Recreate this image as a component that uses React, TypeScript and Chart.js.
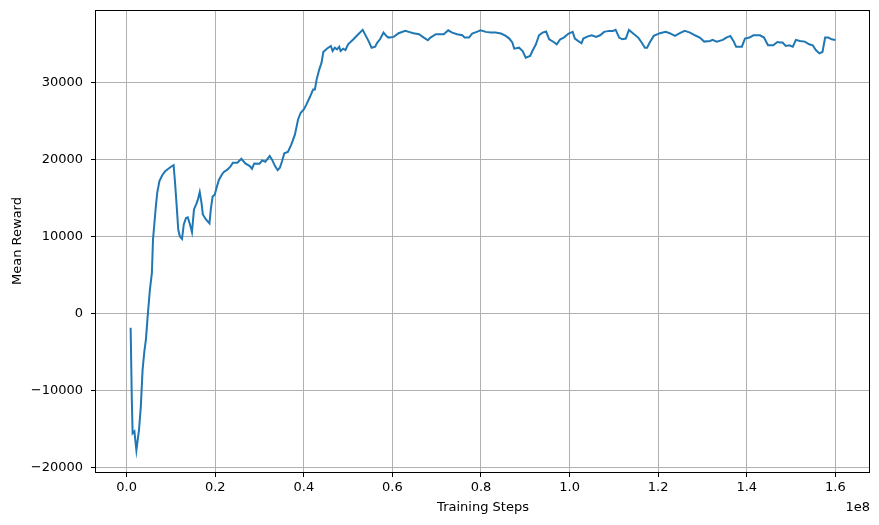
import { useEffect, useRef } from 'react';
import { Chart, registerables } from 'chart.js';

Chart.register(...registerables);

// Training steps in millions
const stepsM = [
  0.9, 1.15, 1.35, 1.75, 2.2, 2.8, 3.2, 3.6, 4.0, 4.35, 4.75, 5.25, 5.7, 5.95, 6.6, 6.9, 7.4, 8.0, 8.7, 9.2,
  10.0, 10.6, 10.9, 11.3, 11.65, 12.0, 12.5, 12.9, 13.4, 13.8, 14.3, 14.75, 15.2, 15.7, 16.1, 16.5, 16.9, 17.2, 17.9, 18.7,
  19.0, 19.4, 19.9, 20.3, 20.8, 21.5, 21.9, 22.8, 23.5, 24.0, 25.0, 25.9, 26.8, 27.8, 28.3, 28.8, 30.0, 30.6, 31.3, 32.3,
  32.8, 33.5, 34.1, 34.6, 35.1, 35.6, 36.4, 37.2, 38.0, 38.7, 39.3, 40.0, 40.6, 41.4, 42.1, 42.5, 42.9, 43.5, 44.0, 44.4,
  45.2, 46.1, 46.5, 47.0, 47.5, 48.0, 48.3, 48.9, 49.4, 50.0, 51.2, 52.3, 53.3, 54.0, 54.6, 55.3, 56.1, 56.6, 57.2, 58.0,
  58.6, 59.1, 60.3, 61.4, 62.9, 63.7, 64.8, 66.0, 67.1, 68.0, 68.6, 69.8, 71.6, 72.6, 73.5, 74.6, 75.8, 76.3, 77.3, 78.0,
  79.2, 79.9, 81.1, 82.2, 83.3, 84.5, 85.6, 86.4, 87.1, 87.5, 88.6, 89.4, 90.1, 91.1, 91.6, 92.4, 93.1, 93.9, 94.7, 95.4,
  96.4, 97.1, 97.9, 98.7, 99.7, 100.7, 101.2, 101.9, 102.7, 103.1, 104.0, 105.0, 106.0, 106.9, 107.8, 108.9, 109.8, 110.4, 111.2, 111.9,
  112.7, 113.4, 114.3, 115.5, 116.2, 117.0, 117.5, 118.1, 119.0, 120.4, 121.7, 122.6, 123.8, 124.9, 126.0, 127.2, 128.3, 129.4, 130.4, 131.7,
  132.3, 133.2, 134.6, 135.4, 136.3, 137.0, 137.6, 138.9, 139.6, 140.6, 141.5, 143.0, 143.9, 144.8, 146.0, 146.9, 147.5, 148.1, 148.8, 149.6,
  150.4, 151.1, 152.0, 153.1, 154.1, 154.9, 155.6, 156.4, 157.1, 157.7, 158.4, 159.2, 160.0,
];

const meanReward = [
  -1800, -10700, -15500, -15250, -17700, -15000, -12000, -7230, -4850, -3340, -300, 3160, 5320, 9650, 13980, 15710, 17220, 17950, 18520, 18740,
  19090, 19300, 17220, 13980, 10950, 10080, 9740, 11600, 12450, 12540, 11600, 10600, 13550, 14200, 14850, 15800, 14400, 12900, 12250, 11730,
  13550, 15190, 15500, 16360, 17350, 18090, 18390, 18740, 19170, 19600, 19600, 20130, 19520, 19170, 18830, 19520, 19480, 19910, 19740, 20480,
  20040, 19170, 18650, 18960, 19830, 20830, 21000, 21990, 23290, 25230, 26100, 26530, 27180, 28170, 29130, 29130, 30430, 31730, 32600, 33980,
  34410, 34760, 34110, 34540, 34330, 34670, 34110, 34410, 34240, 34980, 35630, 36280, 36850, 36070, 35420, 34540, 34670, 35200, 35630, 36500,
  36070, 35850, 35940, 36420, 36720, 36590, 36420, 36280, 35850, 35500, 35850, 36280, 36280, 36800, 36500, 36280, 36150, 35850, 35850, 36370,
  36630, 36800, 36590, 36500, 36500, 36370, 36070, 35720, 35200, 34410, 34540, 34110, 33240, 33460, 34110, 34980, 36150, 36500, 36630, 35630,
  35280, 34980, 35630, 35850, 36350, 36590, 35720, 35420, 35110, 35720, 35980, 36150, 35940, 36150, 36590, 36720, 36720, 36850, 35850, 35630,
  35720, 36850, 36420, 35850, 35280, 34540, 34540, 35200, 36070, 36420, 36590, 36420, 36070, 36420, 36720, 36500, 36150, 35850, 35330, 35420,
  35550, 35330, 35550, 35850, 36070, 35420, 34670, 34670, 35720, 35850, 36150, 36150, 35850, 34850, 34850, 35280, 35200, 35200, 34760, 34850,
  34670, 35550, 35420, 35330, 34980, 34850, 34240, 33800, 33980, 35850, 35850, 35630, 35550,
];

const xTicks = [0, 20, 40, 60, 80, 100, 120, 140, 160];
const yTicks = [-20000, -10000, 0, 10000, 20000, 30000];

const FONT = { family: 'DejaVu Sans', size: 13 };

export default function App() {
  const ref = useRef<HTMLCanvasElement>(null);

  useEffect(() => {
    const framePlugin = {
      id: 'frame',
      afterDraw(chart: any) {
        const { ctx, chartArea } = chart;
        const l = Math.round(chartArea.left) - 0.5;
        const t = Math.round(chartArea.top) + 0.5;
        const r = Math.round(chartArea.right) - 0.5;
        const b = Math.round(chartArea.bottom) + 0.5;
        ctx.save();
        ctx.strokeStyle = '#000';
        ctx.lineWidth = 1;
        ctx.strokeRect(l, t, r - l, b - t);
        ctx.fillStyle = '#000';
        ctx.font = '13px "DejaVu Sans"';
        ctx.textAlign = 'right';
        ctx.textBaseline = 'alphabetic';
        ctx.fillText('1e8', chartArea.right, 511);
        ctx.restore();
      },
    };

    const chart = new Chart(ref.current!, {
      type: 'line',
      data: {
        datasets: [
          {
            data: stepsM.map((x, i) => ({ x, y: meanReward[i] })),
            borderColor: '#1f77b4',
            borderWidth: 2,
            pointRadius: 0,
            tension: 0,
            fill: false,
          },
        ],
      },
      options: {
        animation: false,
        responsive: false,
        maintainAspectRatio: false,
        layout: { padding: { top: 10, right: 9, bottom: 0, left: 0 } },
        plugins: { legend: { display: false }, tooltip: { enabled: false } },
        scales: {
          x: {
            type: 'linear',
            min: -6.92,
            max: 167.83,
            afterBuildTicks: (s: any) => {
              s.ticks = xTicks.map((v) => ({ value: v }));
            },
            afterFit: (s: any) => {
              s.height = 53;
              s.paddingLeft = 0;
              s.paddingRight = 0;
            },
            grid: { color: '#b0b0b0', tickColor: '#000', tickLength: 5, lineWidth: 1 },
            border: { display: false },
            ticks: {
              font: FONT,
              color: '#000',
              padding: 3,
              maxRotation: 0,
              autoSkip: false,
              callback: (v: any) => (Number(v) / 100).toFixed(1),
            },
            title: {
              display: true,
              text: 'Training Steps',
              font: FONT,
              color: '#000',
              padding: { top: 0, bottom: 10 },
            },
          },
          y: {
            type: 'linear',
            min: -20520,
            max: 39430,
            afterBuildTicks: (s: any) => {
              s.ticks = yTicks.map((v) => ({ value: v }));
            },
            afterFit: (s: any) => {
              s.width = 96;
              s.paddingTop = 0;
              s.paddingBottom = 0;
            },
            grid: { color: '#b0b0b0', tickColor: '#000', tickLength: 5, lineWidth: 1 },
            border: { display: false },
            ticks: {
              font: FONT,
              color: '#000',
              padding: 8,
              autoSkip: false,
              callback: (v: any) => {
                const n = Number(v);
                return n < 0 ? '\u2212' + Math.abs(n) : String(n);
              },
            },
            title: {
              display: true,
              text: 'Mean Reward',
              font: FONT,
              color: '#000',
              padding: { top: 10, bottom: 0 },
            },
          },
        },
      },
      plugins: [framePlugin],
    });
    return () => chart.destroy();
  }, []);

  return (
    <div style={{ position: 'absolute', left: 0, top: 0, width: 879, height: 525, background: '#fff' }}>
      <canvas ref={ref} width={879} height={525} style={{ width: 879, height: 525, display: 'block' }} />
    </div>
  );
}
